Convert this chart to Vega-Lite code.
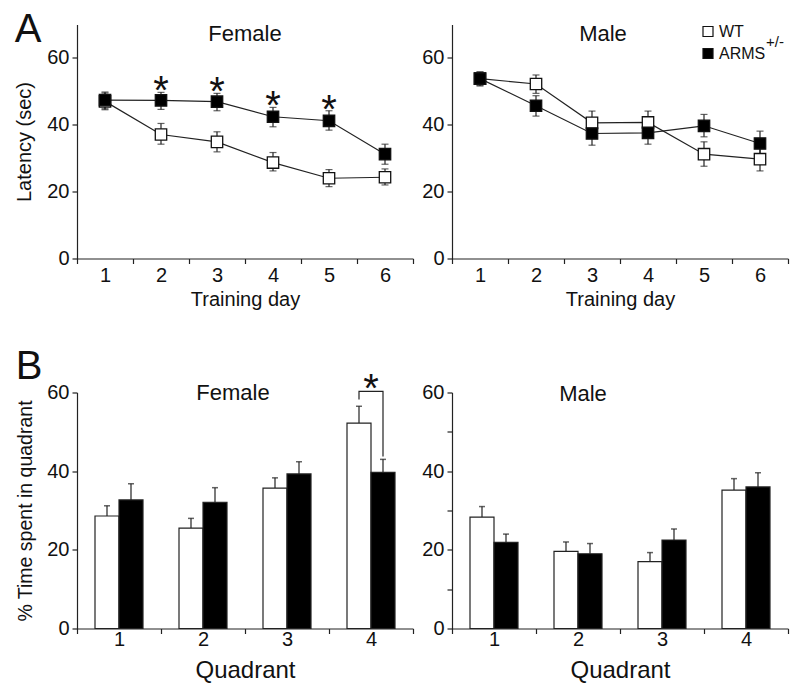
{
  "$schema": "https://vega.github.io/schema/vega-lite/v6.json",
  "padding": {"left": 14, "top": 9.5, "right": 5, "bottom": 5},
  "background": "white",
  "config": {
    "font": "Liberation Sans",
    "view": {"stroke": null},
    "axis": {
      "grid": false,
      "domainColor": "#222",
      "tickColor": "#222",
      "labelColor": "#111",
      "titleColor": "#111",
      "labelFontSize": 20,
      "titleFontSize": 20,
      "titleFontWeight": "normal",
      "tickSize": 5,
      "domainWidth": 1.2,
      "tickWidth": 1.2
    },
    "title": {"fontWeight": "normal", "fontSize": 22, "color": "#111"},
    "legend": {"labelFontSize": 16, "labelColor": "#111"}
  },
  "datasets": {
    "lines": [
      {"sex": "Female", "day": "1", "geno": "WT", "value": 47.0, "lo": 44.5, "hi": 49.5},
      {"sex": "Female", "day": "2", "geno": "WT", "value": 37.1, "lo": 34.2, "hi": 40.4},
      {"sex": "Female", "day": "3", "geno": "WT", "value": 34.9, "lo": 31.9, "hi": 37.9},
      {"sex": "Female", "day": "4", "geno": "WT", "value": 28.7, "lo": 26.2, "hi": 31.7},
      {"sex": "Female", "day": "5", "geno": "WT", "value": 24.0, "lo": 21.5, "hi": 26.6},
      {"sex": "Female", "day": "6", "geno": "WT", "value": 24.3, "lo": 22.0, "hi": 26.8},
      {"sex": "Female", "day": "1", "geno": "ARMS", "value": 47.4, "lo": 44.8, "hi": 49.8},
      {"sex": "Female", "day": "2", "geno": "ARMS", "value": 47.3, "lo": 44.6, "hi": 49.7},
      {"sex": "Female", "day": "3", "geno": "ARMS", "value": 46.9, "lo": 44.2, "hi": 49.4},
      {"sex": "Female", "day": "4", "geno": "ARMS", "value": 42.4, "lo": 39.4, "hi": 45.2},
      {"sex": "Female", "day": "5", "geno": "ARMS", "value": 41.2, "lo": 38.4, "hi": 44.2},
      {"sex": "Female", "day": "6", "geno": "ARMS", "value": 31.2, "lo": 28.2, "hi": 34.2},
      {"sex": "Male", "day": "1", "geno": "WT", "value": 53.8, "lo": 51.8, "hi": 55.8},
      {"sex": "Male", "day": "2", "geno": "WT", "value": 52.2, "lo": 49.4, "hi": 54.9},
      {"sex": "Male", "day": "3", "geno": "WT", "value": 40.6, "lo": 37.2, "hi": 44.1},
      {"sex": "Male", "day": "4", "geno": "WT", "value": 40.7, "lo": 37.4, "hi": 44.1},
      {"sex": "Male", "day": "5", "geno": "WT", "value": 31.2, "lo": 27.6, "hi": 34.9},
      {"sex": "Male", "day": "6", "geno": "WT", "value": 29.7, "lo": 26.2, "hi": 33.1},
      {"sex": "Male", "day": "1", "geno": "ARMS", "value": 53.8, "lo": 51.6, "hi": 55.8},
      {"sex": "Male", "day": "2", "geno": "ARMS", "value": 45.7, "lo": 42.6, "hi": 48.7},
      {"sex": "Male", "day": "3", "geno": "ARMS", "value": 37.4, "lo": 33.9, "hi": 40.7},
      {"sex": "Male", "day": "4", "geno": "ARMS", "value": 37.6, "lo": 34.2, "hi": 40.9},
      {"sex": "Male", "day": "5", "geno": "ARMS", "value": 39.7, "lo": 36.4, "hi": 43.1},
      {"sex": "Male", "day": "6", "geno": "ARMS", "value": 34.4, "lo": 30.9, "hi": 38.1}
    ],
    "stars": [
      {"day": "2", "y": 53.0, "label": "*"},
      {"day": "3", "y": 52.6, "label": "*"},
      {"day": "4", "y": 48.5, "label": "*"},
      {"day": "5", "y": 47.4, "label": "*"}
    ],
    "sup": [
      {"day": "6", "y": 63.4, "label": "+/-"}
    ],
    "bars": [
      {"sex": "Female", "quad": "1", "geno": "WT", "value": 28.6, "hi": 31.2},
      {"sex": "Female", "quad": "1", "geno": "ARMS", "value": 32.7, "hi": 36.8},
      {"sex": "Female", "quad": "2", "geno": "WT", "value": 25.5, "hi": 28.0},
      {"sex": "Female", "quad": "2", "geno": "ARMS", "value": 32.1, "hi": 35.8},
      {"sex": "Female", "quad": "3", "geno": "WT", "value": 35.7, "hi": 38.3},
      {"sex": "Female", "quad": "3", "geno": "ARMS", "value": 39.3, "hi": 42.4},
      {"sex": "Female", "quad": "4", "geno": "WT", "value": 52.2, "hi": 56.5},
      {"sex": "Female", "quad": "4", "geno": "ARMS", "value": 39.7, "hi": 43.0},
      {"sex": "Male", "quad": "1", "geno": "WT", "value": 28.3, "hi": 31.0},
      {"sex": "Male", "quad": "1", "geno": "ARMS", "value": 21.9, "hi": 24.0},
      {"sex": "Male", "quad": "2", "geno": "WT", "value": 19.6, "hi": 22.0},
      {"sex": "Male", "quad": "2", "geno": "ARMS", "value": 19.0, "hi": 21.6},
      {"sex": "Male", "quad": "3", "geno": "WT", "value": 17.0, "hi": 19.3},
      {"sex": "Male", "quad": "3", "geno": "ARMS", "value": 22.5, "hi": 25.3},
      {"sex": "Male", "quad": "4", "geno": "WT", "value": 35.2, "hi": 38.1},
      {"sex": "Male", "quad": "4", "geno": "ARMS", "value": 36.0, "hi": 39.6}
    ],
    "bracket": [
      {"quad": "4", "geno": "WT", "y": 58.2, "ord": 1},
      {"quad": "4", "geno": "WT", "y": 60.3, "ord": 2},
      {"quad": "4", "geno": "ARMS", "y": 60.3, "ord": 3},
      {"quad": "4", "geno": "ARMS", "y": 43.7, "ord": 4}
    ],
    "bstar": [
      {"quad": "4", "y": 63.3, "label": "*"}
    ]
  },
  "bounds": "flush",
  "spacing": 368,
  "vconcat": [
    {
      "title": {"text": "A", "anchor": "start", "fontSize": 40, "dx": 0, "offset": -27, "color": "#111"},
      "bounds": "flush",
      "spacing": 39,
      "hconcat": [
        {
          "width": 336,
          "height": 234,
          "title": {"text": "Female", "offset": -21},
          "layer": [
            {
              "data": {"name": "lines"},
              "transform": [{"filter": "datum.sex == 'Female'"}],
              "encoding": {
                "x": {"field": "day", "type": "ordinal", "scale": {"type": "band", "paddingInner": 0, "paddingOuter": 0}, "axis": {"title": "Training day", "labelAngle": 0, "tickBand": "extent", "labelPadding": 2, "titlePadding": 4}},
                "y": {"field": "value", "type": "quantitative", "scale": {"domain": [0, 70], "nice": false, "zero": true}, "axis": {"title": "Latency (sec)", "values": [0, 10, 20, 30, 40, 50, 60, 70], "labelExpr": "datum.value % 20 == 0 ? datum.label : ''", "labelPadding": 3, "titlePadding": 12}}
              },
              "layer": [
                {"mark": {"type": "line", "color": "#222", "strokeWidth": 1.2}, "encoding": {"detail": {"field": "geno"}}},
                {"mark": {"type": "rule", "color": "#222", "strokeWidth": 1.2}, "encoding": {"y": {"field": "lo", "type": "quantitative"}, "y2": {"field": "hi"}}},
                {"mark": {"type": "tick", "color": "#222", "size": 7, "thickness": 1.2, "orient": "horizontal"}, "encoding": {"y": {"field": "hi", "type": "quantitative"}}},
                {"mark": {"type": "tick", "color": "#222", "size": 7, "thickness": 1.2, "orient": "horizontal"}, "encoding": {"y": {"field": "lo", "type": "quantitative"}}},
                {"mark": {"type": "point", "shape": "square", "size": 130, "filled": true, "stroke": "#111", "strokeWidth": 1.3, "opacity": 1}, "encoding": {"fill": {"field": "geno", "type": "nominal", "scale": {"domain": ["WT", "ARMS"], "range": ["white", "black"]}, "legend": {"title": null, "orient": "none", "legendX": 623, "legendY": -1, "symbolType": "square", "symbolSize": 100, "symbolStrokeColor": "#111", "symbolStrokeWidth": 1.2, "rowPadding": 6, "labelOffset": 3, "labelExpr": "datum.label == 'ARMS' ? 'ARMS' : 'WT'"}}}}
              ]
            },
            {
              "data": {"name": "stars"},
              "mark": {"type": "text", "fontSize": 40, "baseline": "alphabetic", "dy": 22.5, "color": "#111"},
              "encoding": {
                "x": {"field": "day", "type": "ordinal"},
                "y": {"field": "y", "type": "quantitative"},
                "text": {"field": "label"}
              }
            }
          ]
        },
        {
          "width": 336,
          "height": 234,
          "title": {"text": "Male", "offset": -21, "dx": -17},
          "layer": [
            {
              "data": {"name": "lines"},
              "transform": [{"filter": "datum.sex == 'Male'"}],
              "encoding": {
                "x": {"field": "day", "type": "ordinal", "scale": {"type": "band", "paddingInner": 0, "paddingOuter": 0}, "axis": {"title": "Training day", "labelAngle": 0, "tickBand": "extent", "labelPadding": 2, "titlePadding": 4}},
                "y": {"field": "value", "type": "quantitative", "scale": {"domain": [0, 70], "nice": false, "zero": true}, "axis": {"title": null, "values": [0, 10, 20, 30, 40, 50, 60, 70], "labelExpr": "datum.value % 20 == 0 ? datum.label : ''", "labelPadding": 3}}
              },
              "layer": [
                {"mark": {"type": "line", "color": "#222", "strokeWidth": 1.2}, "encoding": {"detail": {"field": "geno"}}},
                {"mark": {"type": "rule", "color": "#222", "strokeWidth": 1.2}, "encoding": {"y": {"field": "lo", "type": "quantitative"}, "y2": {"field": "hi"}}},
                {"mark": {"type": "tick", "color": "#222", "size": 7, "thickness": 1.2, "orient": "horizontal"}, "encoding": {"y": {"field": "hi", "type": "quantitative"}}},
                {"mark": {"type": "tick", "color": "#222", "size": 7, "thickness": 1.2, "orient": "horizontal"}, "encoding": {"y": {"field": "lo", "type": "quantitative"}}},
                {"mark": {"type": "point", "shape": "square", "size": 130, "filled": true, "stroke": "#111", "strokeWidth": 1.3, "opacity": 1}, "encoding": {"fill": {"field": "geno", "type": "nominal", "scale": {"domain": ["WT", "ARMS"], "range": ["white", "black"]}, "legend": {"title": null, "orient": "none", "legendX": 623, "legendY": -1, "symbolType": "square", "symbolSize": 100, "symbolStrokeColor": "#111", "symbolStrokeWidth": 1.2, "rowPadding": 6, "labelOffset": 3, "labelExpr": "datum.label == 'ARMS' ? 'ARMS' : 'WT'"}}}}
              ]
            },
            {
              "data": {"name": "sup"},
              "mark": {"type": "text", "fontSize": 15, "align": "left", "baseline": "alphabetic", "dx": 6, "color": "#111"},
              "encoding": {
                "x": {"field": "day", "type": "ordinal"},
                "y": {"field": "y", "type": "quantitative"},
                "text": {"field": "label"}
              }
            }
          ]
        }
      ]
    },
    {
      "title": {"text": "B", "anchor": "start", "fontSize": 40, "dx": 0, "offset": -17, "color": "#111"},
      "bounds": "flush",
      "spacing": 39,
      "hconcat": [
        {
          "width": 336,
          "height": 236,
          "title": {"text": "Female", "offset": -35, "dx": -12},
          "layer": [
            {
              "data": {"name": "bars"},
              "transform": [{"filter": "datum.sex == 'Female'"}],
              "encoding": {
                "x": {"field": "quad", "type": "ordinal", "scale": {"type": "band", "paddingInner": 0, "paddingOuter": 0}, "axis": {"title": "Quadrant", "titleFontSize": 24, "labelAngle": 0, "tickBand": "extent", "labelPadding": -4, "titlePadding": 9}},
                "xOffset": {"field": "geno", "type": "nominal", "sort": ["WT", "ARMS"], "scale": {"paddingInner": 0, "paddingOuter": 0.75}},
                "y": {"field": "value", "type": "quantitative", "scale": {"domain": [0, 60], "nice": false}, "axis": {"title": "% Time spent in quadrant", "titleFontSize": 19.5, "values": [0, 10, 20, 30, 40, 50, 60], "labelExpr": "datum.value % 20 == 0 ? datum.label : ''", "labelPadding": 3, "titlePadding": 11}}
              },
              "layer": [
                {"mark": {"type": "rule", "color": "#222", "strokeWidth": 1.2}, "encoding": {"y2": {"field": "hi"}}},
                {"mark": {"type": "tick", "color": "#222", "size": 6, "thickness": 1.5, "orient": "horizontal"}, "encoding": {"y": {"field": "hi", "type": "quantitative"}}},
                {"mark": {"type": "bar", "stroke": "#222", "strokeWidth": 1.2}, "encoding": {"fill": {"field": "geno", "type": "nominal", "scale": {"domain": ["WT", "ARMS"], "range": ["white", "black"]}, "legend": {"title": null, "orient": "none", "legendX": 623, "legendY": -1, "symbolType": "square", "symbolSize": 100, "symbolStrokeColor": "#111", "symbolStrokeWidth": 1.2, "rowPadding": 6, "labelOffset": 3, "labelExpr": "datum.label == 'ARMS' ? 'ARMS' : 'WT'"}}}}
              ]
            },
            {
              "data": {"name": "bracket"},
              "mark": {"type": "line", "color": "#222", "strokeWidth": 1.2},
              "encoding": {
                "x": {"field": "quad", "type": "ordinal"},
                "xOffset": {"field": "geno", "type": "nominal", "sort": ["WT", "ARMS"]},
                "y": {"field": "y", "type": "quantitative"},
                "order": {"field": "ord"}
              }
            },
            {
              "data": {"name": "bstar"},
              "mark": {"type": "text", "fontSize": 40, "baseline": "alphabetic", "dy": 22.5, "color": "#111"},
              "encoding": {
                "x": {"field": "quad", "type": "ordinal"},
                "y": {"field": "y", "type": "quantitative"},
                "text": {"field": "label"}
              }
            }
          ]
        },
        {
          "width": 336,
          "height": 236,
          "title": {"text": "Male", "offset": -23, "dx": -37},
          "data": {"name": "bars"},
          "transform": [{"filter": "datum.sex == 'Male'"}],
          "encoding": {
            "x": {"field": "quad", "type": "ordinal", "scale": {"type": "band", "paddingInner": 0, "paddingOuter": 0}, "axis": {"title": "Quadrant", "titleFontSize": 24, "labelAngle": 0, "tickBand": "extent", "labelPadding": -4, "titlePadding": 9}},
            "xOffset": {"field": "geno", "type": "nominal", "sort": ["WT", "ARMS"], "scale": {"paddingInner": 0, "paddingOuter": 0.75}},
            "y": {"field": "value", "type": "quantitative", "scale": {"domain": [0, 60], "nice": false}, "axis": {"title": null, "values": [0, 10, 20, 30, 40, 50, 60], "labelExpr": "datum.value % 20 == 0 ? datum.label : ''", "labelPadding": 3}}
          },
          "layer": [
            {"mark": {"type": "rule", "color": "#222", "strokeWidth": 1.2}, "encoding": {"y2": {"field": "hi"}}},
            {"mark": {"type": "tick", "color": "#222", "size": 6, "thickness": 1.5, "orient": "horizontal"}, "encoding": {"y": {"field": "hi", "type": "quantitative"}}},
            {"mark": {"type": "bar", "stroke": "#222", "strokeWidth": 1.2}, "encoding": {"fill": {"field": "geno", "type": "nominal", "scale": {"domain": ["WT", "ARMS"], "range": ["white", "black"]}, "legend": {"title": null, "orient": "none", "legendX": 623, "legendY": -1, "symbolType": "square", "symbolSize": 100, "symbolStrokeColor": "#111", "symbolStrokeWidth": 1.2, "rowPadding": 6, "labelOffset": 3, "labelExpr": "datum.label == 'ARMS' ? 'ARMS' : 'WT'"}}}}
          ]
        }
      ]
    }
  ]
}
